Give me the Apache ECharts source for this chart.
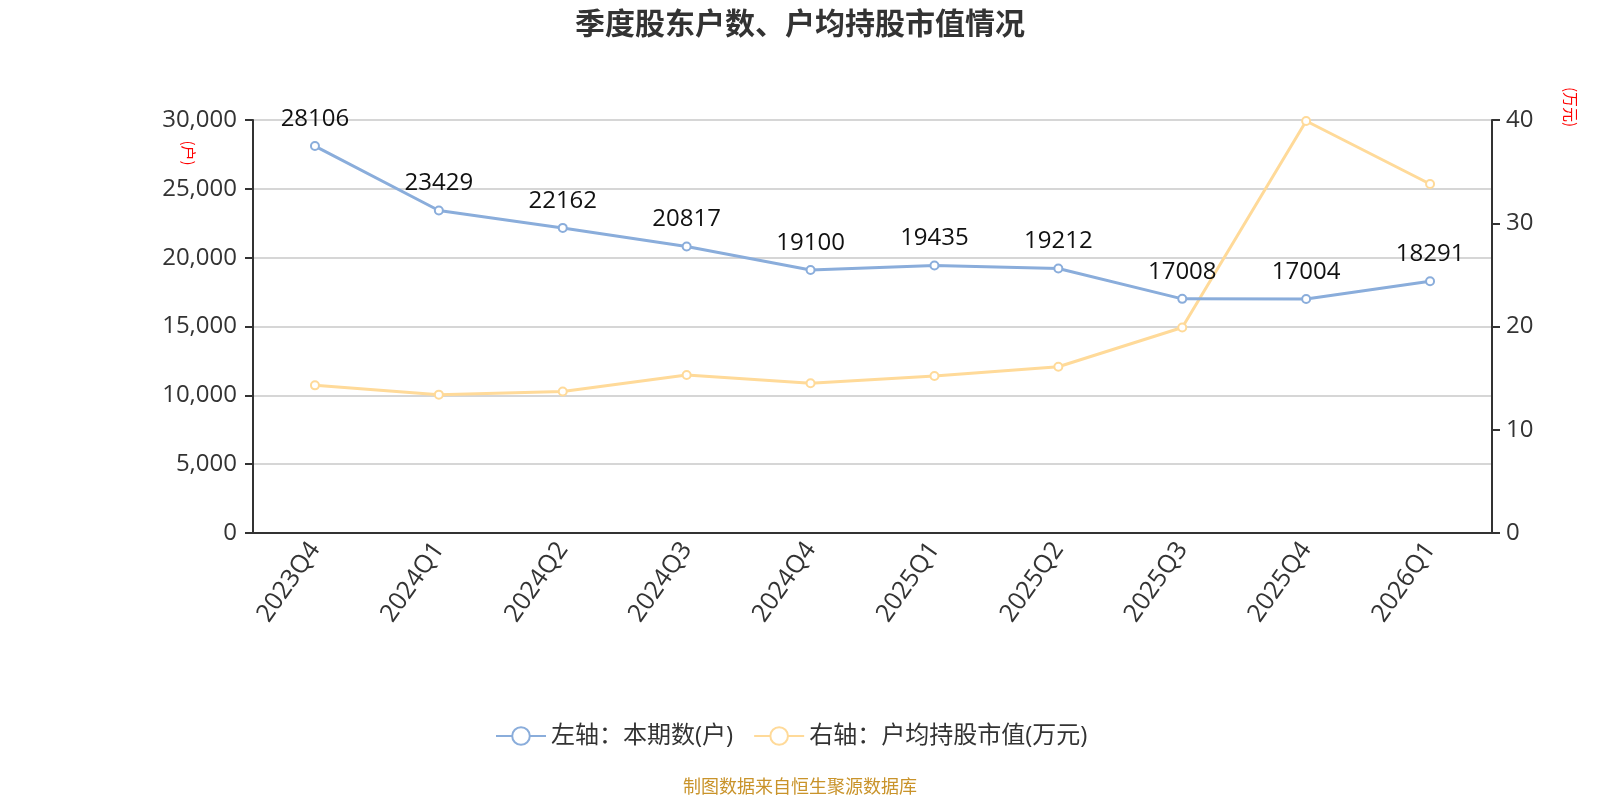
<!DOCTYPE html>
<html>
<head>
<meta charset="utf-8">
<script src="https://cdn.jsdelivr.net/npm/echarts@6/dist/echarts.min.js"></script>
<style>
  html, body { margin: 0; padding: 0; background: #fff; }
  #chart { width: 1600px; height: 800px; }
</style>
</head>
<body>
<div id="chart"></div>
<script>
const quarters = ['2023Q4', '2024Q1', '2024Q2', '2024Q3', '2024Q4', '2025Q1', '2025Q2', '2025Q3', '2025Q4', '2026Q1']
// 左轴：本期股东户数
const holders = [28106, 23429, 22162, 20817, 19100, 19435, 19212, 17008, 17004, 18291]
// 右轴：户均持股市值 (万元)
const avgValue = [14.3, 13.4, 13.7, 15.3, 14.5, 15.2, 16.1, 19.9, 39.9, 33.8]

const blue = '#8aaddb'
const yellow = '#ffda99'
const font = '"Open Sans", "Noto Sans CJK SC", sans-serif'
const cjkFont = '"Noto Sans CJK SC", sans-serif'

const chart = echarts.init(document.getElementById('chart'))

chart.setOption({
  backgroundColor: '#fff',
  textStyle: { fontFamily: font },
  title: {
    text: '季度股东户数、户均持股市值情况',
    left: 'center',
    top: 3,
    textStyle: { fontSize: 30, fontWeight: 'bold', color: '#333', fontFamily: cjkFont }
  },
  legend: {
    top: 719,
    left: 490,
    itemWidth: 50,
    itemHeight: 22,
    itemGap: 20,
    textStyle: { fontSize: 24, color: '#333', fontFamily: font },
    data: ['左轴：本期数(户)', '右轴：户均持股市值(万元)']
  },
  grid: {
    left: 253,
    right: 108,
    top: 120,
    bottom: 267
  },
  xAxis: {
    type: 'category',
    data: quarters,
    boundaryGap: true,
    axisLine: { lineStyle: { color: '#333', width: 2 } },
    axisTick: { length: 8, lineStyle: { width: 2 } },
    axisLabel: { rotate: 55, fontSize: 25, color: '#333', margin: 12 }
  },
  yAxis: [
    {
      type: 'value',
      min: 0,
      max: 30000,
      interval: 5000,
      axisLine: { show: true, lineStyle: { color: '#333', width: 2 } },
      axisTick: { show: true, length: 8, lineStyle: { width: 2 } },
      axisLabel: {
        fontSize: 24,
        color: '#333',
        margin: 16,
        formatter: v => v.toLocaleString('en-US')
      },
      splitLine: { lineStyle: { color: '#c8c8c8', width: 1.5 } }
    },
    {
      type: 'value',
      min: 0,
      max: 40,
      interval: 10,
      axisLine: { show: true, lineStyle: { color: '#333', width: 2 } },
      axisTick: { show: true, length: 8, lineStyle: { width: 2 } },
      axisLabel: { fontSize: 24, color: '#333', margin: 14 },
      splitLine: { show: false }
    }
  ],
  graphic: [
    {
      type: 'text',
      x: 189,
      y: 153,
      rotation: -Math.PI / 2,
      style: { text: '(户)', fill: '#ff0000', font: '15px ' + cjkFont, align: 'center', verticalAlign: 'middle' }
    },
    {
      type: 'text',
      x: 1571,
      y: 107,
      rotation: -Math.PI / 2,
      style: { text: '(万元)', fill: '#ff0000', font: '15px ' + cjkFont, align: 'center', verticalAlign: 'middle' }
    },
    {
      type: 'text',
      left: 'center',
      top: 777,
      style: { text: '制图数据来自恒生聚源数据库', fill: '#c9932a', font: '18px ' + cjkFont }
    }
  ],
  series: [
    {
      name: '左轴：本期数(户)',
      type: 'line',
      yAxisIndex: 0,
      data: holders,
      symbol: 'emptyCircle',
      symbolSize: 8,
      lineStyle: { color: blue, width: 3 },
      itemStyle: { color: blue, borderWidth: 2 },
      label: { show: true, position: 'top', fontSize: 24, color: '#111', distance: 10 },
      z: 3
    },
    {
      name: '右轴：户均持股市值(万元)',
      type: 'line',
      yAxisIndex: 1,
      data: avgValue,
      symbol: 'emptyCircle',
      symbolSize: 8,
      lineStyle: { color: yellow, width: 3 },
      itemStyle: { color: yellow, borderWidth: 2 },
      z: 2
    }
  ]
})

window.addEventListener('resize', () => chart.resize())
</script>
</body>
</html>
